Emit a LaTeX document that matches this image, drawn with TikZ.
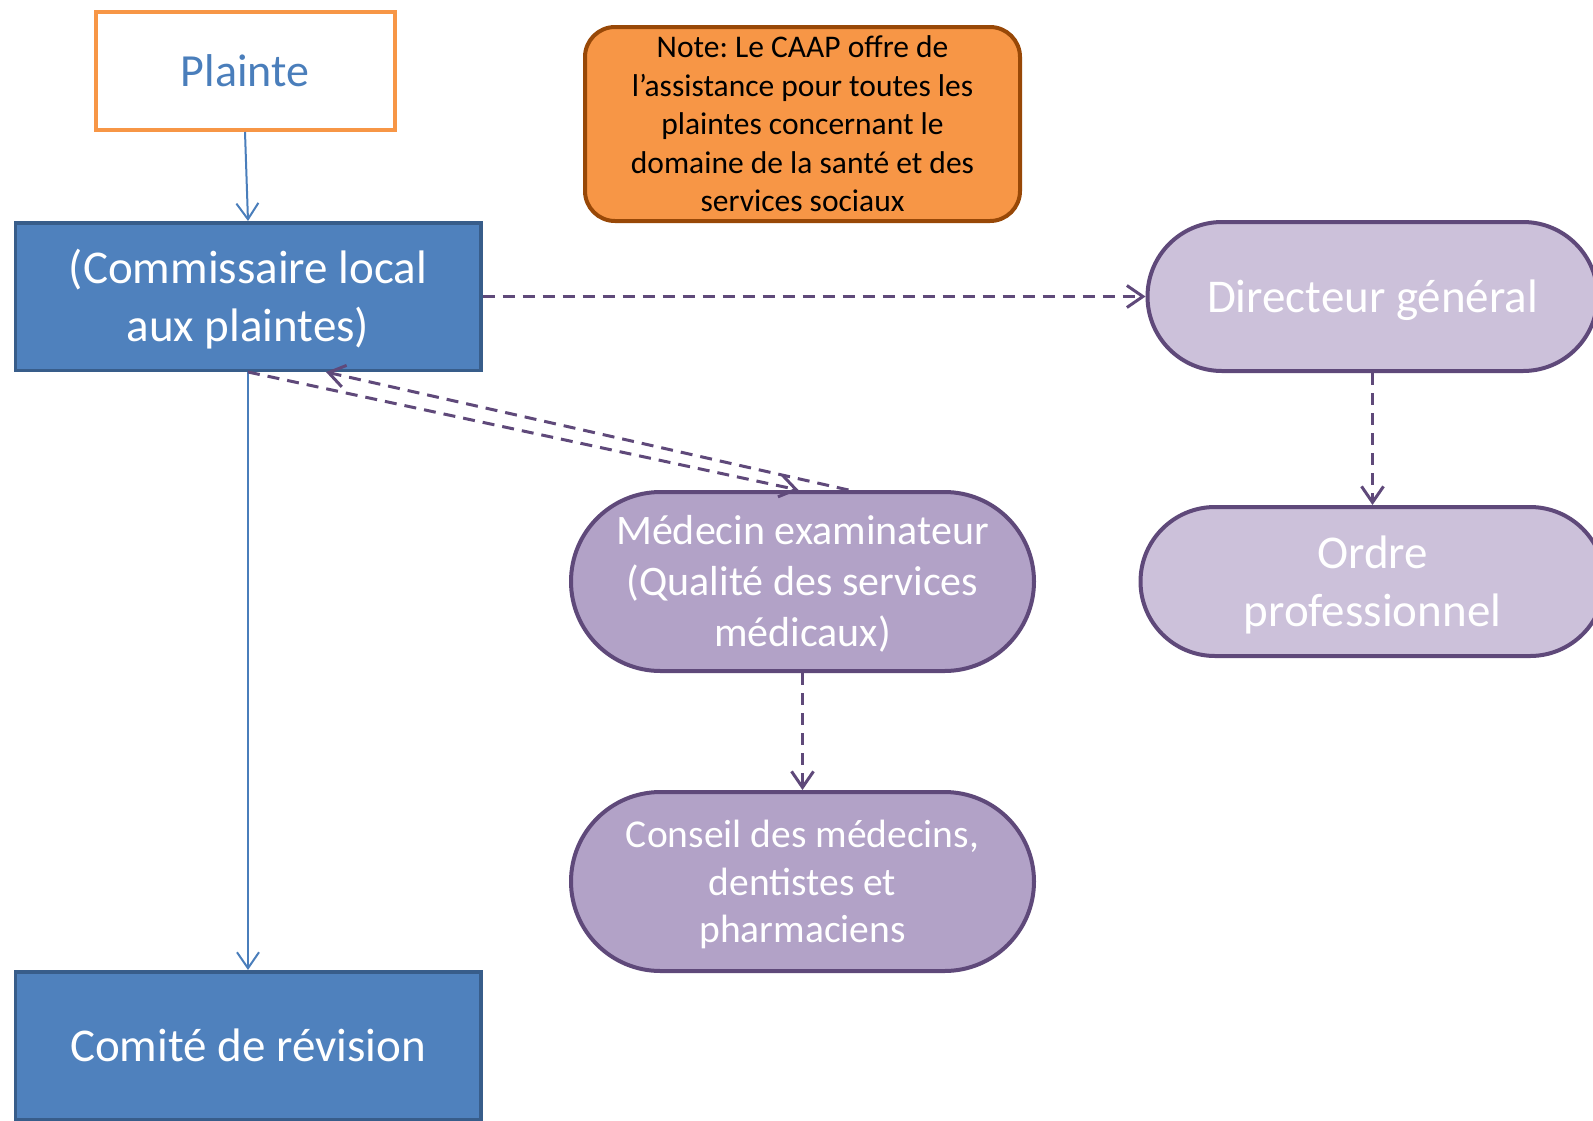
\documentclass[tikz,border=0pt]{standalone}
\usepackage{fontspec}
\setmainfont{Carlito}
\frenchspacing
\usepackage{tikz}
\usetikzlibrary{arrows.meta,positioning,shapes.misc}
\definecolor{boxblue}{HTML}{4F81BD}
\definecolor{boxedge}{HTML}{385D8A}
\definecolor{lineblue}{HTML}{4A7EBB}
\definecolor{notefill}{HTML}{F79646}
\definecolor{noteedge}{HTML}{984807}
\definecolor{lilac}{HTML}{B2A2C7}
\definecolor{lilaclt}{HTML}{CCC1DA}
\definecolor{plum}{HTML}{5F497A}
\newcommand{\hiline}{\rule{0pt}{0.952em}}
\newcommand{\loline}{\rule[-0.269em]{0pt}{0.269em}}

\begin{document}
\begin{tikzpicture}[x=1pt,y=-1pt,>={Straight Barb[length=16pt,width=22pt]},
  bluebox/.style={draw=boxedge,fill=boxblue,line width=3.5pt,text=white,inner sep=0pt,
    minimum width=465.5pt,minimum height=147.5pt,align=center,font=\fontsize{47}{57.5}\selectfont},
  pill/.style={rounded rectangle,draw=plum,line width=4pt,text=white,inner sep=0pt,
    minimum height=149pt,align=center,font=\fontsize{47}{57.5}\selectfont},
  flow/.style={->,lineblue,line width=2pt},
  refer/.style={->,plum,line width=3pt,dash pattern=on 12pt off 8pt}]
  \useasboundingbox (0,0) rectangle (1593,1120);
  \clip (0,0) rectangle (1593,1120);

  \node[bluebox] (comm) at (248,296.5) {\hiline(Commissaire local\\aux plaintes)\loline};
  \node[draw=notefill,line width=4pt,text=lineblue,minimum width=299pt,minimum height=118pt,
    inner sep=0pt,font=\fontsize{46}{56}\selectfont] (plainte) [above=89pt of comm,xshift=-3pt] {\hiline Plainte\loline};
  \node[bluebox] (comite) [below=598pt of comm] {\hiline Comité de révision\loline};
  \node[draw=noteedge,fill=notefill,line width=4pt,rounded corners=30pt,minimum width=435pt,
    minimum height=194pt,inner sep=0pt,align=center,font=\fontsize{31.5}{38.6}\selectfont]
    (note) at (802.5,124) {\hiline Note: Le CAAP offre de\\l’assistance pour toutes les\\plaintes concernant le\\domaine de la santé et des\\services sociaux\loline};
  \node[pill,fill=lilaclt,minimum width=450pt] (dir) [right=663pt of comm] {\hiline Directeur général\loline};
  \node[pill,fill=lilaclt,minimum width=464pt] (ordre) [below=132pt of dir] {\hiline Ordre\\professionnel\loline};
  \node[pill,fill=lilac,minimum width=463pt,minimum height=179pt,font=\fontsize{42}{51}\selectfont]
    (med) [below=267pt of note] {\hiline Médecin examinateur\\(Qualité des services\\médicaux)\loline};
  \node[pill,fill=lilac,minimum width=463pt,minimum height=179pt,font=\fontsize{39.5}{47.5}\selectfont]
    (conseil) [below=117pt of med] {\hiline Conseil des médecins,\\dentistes et\\pharmaciens\loline};

  \draw[flow] (plainte.south) -- (comm.north);
  \draw[flow] (comm.south) -- (comite.north);
  \draw[refer] (comm.east) -- (dir.west);
  \draw[refer] (dir.south) -- (ordre.north);
  \draw[refer] (med.south) -- (conseil.north);
  \draw[refer] (comm.south) -- ([xshift=-4pt]med.north);
  \draw[refer] ([xshift=46pt]med.north) -- ([xshift=78pt]comm.south);
\end{tikzpicture}
\end{document}
